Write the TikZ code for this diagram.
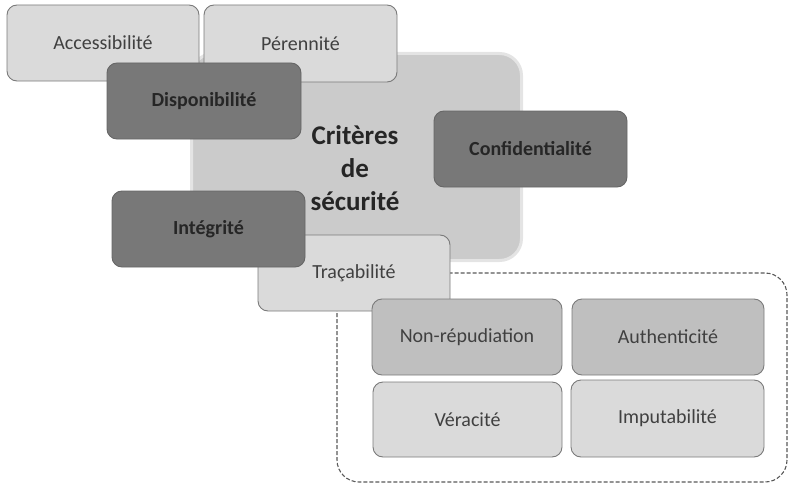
\documentclass[tikz,border=0pt]{standalone}
\usepackage{fontspec}
\setmainfont{Carlito}
\definecolor{lightfill}{HTML}{DADADA}
\definecolor{darkfill}{HTML}{787878}
\definecolor{midfill}{HTML}{BFBFBF}
\definecolor{mainfill}{HTML}{CBCBCB}
\definecolor{mainedge}{HTML}{E4E4E4}
\definecolor{edgegray}{HTML}{7A7A7A}
\definecolor{txtlight}{HTML}{404040}
\definecolor{txtdark}{HTML}{262626}
\tikzset{
  boxbase/.style={rectangle, rounded corners=10pt, draw=edgegray, line width=0.9pt, inner sep=0pt,
    font=\fontsize{20}{24}\selectfont},
  lightbox/.style={boxbase, fill=lightfill, text=txtlight},
  midbox/.style={boxbase, fill=midfill, text=txtlight},
  darkbox/.style={boxbase, fill=darkfill, draw=darkfill!85!black, text=txtdark, font=\fontsize{20}{24}\selectfont\bfseries},
  sz/.style 2 args={minimum width=#1pt, minimum height=#2pt},
}
\begin{document}
\begin{tikzpicture}[x=1pt,y=-1pt]
\useasboundingbox (0,0) rectangle (789,487);
% dashed group
\draw[rounded corners=22pt, draw=black!65, line width=1.1pt, dash pattern=on 4pt off 2pt]
  (337,273) rectangle (787,482);
% main box
\node[rectangle, rounded corners=22pt, fill=mainfill, draw=mainedge, line width=3pt,
  minimum width=330pt, minimum height=207pt, inner sep=0pt] (main) at (356.5,157) {};
\node[lightbox, sz={192}{76}] (acc) at (103,43) {Accessibilité};
\node[lightbox, sz={193}{77}] (per) at (300.5,43.5) {Pérennité};
\node[darkbox, sz={194}{76}] (dis) at (204,101) {Disponibilité};
\node[darkbox, sz={193}{76}] (conf) at (530.5,149) {Confidentialité};
\node[align=center, text=txtdark, font=\fontsize{27}{33}\selectfont\bfseries] (title) at (355,168)
  {Critères\\de\\sécurité};
\node[lightbox, sz={192}{76}] (tra) at (354,273) {Traçabilité};
\node[darkbox, sz={193}{76}] (int) at (208.5,229) {Intégrité};
\node[midbox, sz={190}{76}] (nonrep) at (467,337) {Non-répudiation};
\node[midbox, sz={192}{76}] (auth) at (668,337) {Authenticité};
\node[lightbox, sz={189}{75}] (ver) at (467.5,419.5) {Véracité};
\node[lightbox, sz={193}{77}] (imp) at (667.5,418.5) {Imputabilité};
\end{tikzpicture}
\end{document}
